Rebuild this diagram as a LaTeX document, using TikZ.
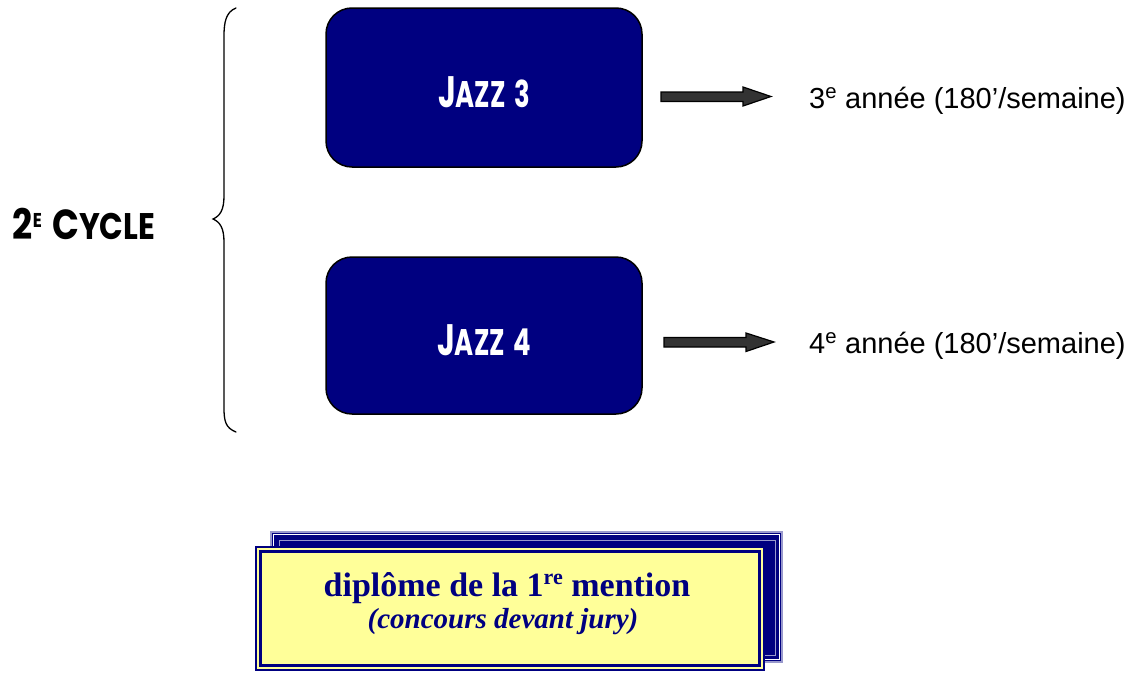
\documentclass[tikz,border=0pt]{standalone}
\usepackage{fontspec}
\usepackage{graphicx}
\setmainfont{Liberation Serif}
\newfontfamily\arialfont{Liberation Sans}
\newfontfamily\handfont{Poppins}
\definecolor{navy}{HTML}{000080}
\definecolor{paleyellow}{HTML}{FFFF99}
\definecolor{lavender}{HTML}{9999CC}
\definecolor{arrowgray}{HTML}{333333}
\tikzset{
  jazzbox/.style={draw=black, line width=1.5pt, fill=navy, rounded corners=26pt},
  jazztext/.style={text=white, font=\handfont\bfseries},
  blockarrow/.style={draw=black, line width=1.2pt, fill=arrowgray, line join=miter},
  yearlabel/.style={anchor=base west, font=\arialfont\fontsize{29}{32}\selectfont, inner sep=0pt},
}
\begin{document}
\begin{tikzpicture}[x=1pt,y=-1pt]
\useasboundingbox (0,0) rectangle (1143,672);
% boxes
\draw[jazzbox] (326,8) rectangle (642,167);
\draw[jazzbox] (326,257) rectangle (642,414);
\node[jazztext] (j3) at (484,92) {\scalebox{0.7}[1]{\fontsize{44}{44}\selectfont J\fontsize{37}{37}\selectfont AZZ\hspace{12pt}3}};
\node[jazztext] (j4) at (484,340) {\scalebox{0.7}[1]{\fontsize{44}{44}\selectfont J\fontsize{37}{37}\selectfont AZZ\hspace{12pt}4}};
% cycle label
\node[font=\handfont\bfseries, text=black] (cyc) at (84,224) {\scalebox{0.84}[1]{\fontsize{42}{42}\selectfont 2\raisebox{12pt}{\fontsize{20}{20}\selectfont E}\hspace{12pt}C\fontsize{37}{37}\selectfont YCLE}};
% brace
\draw[line width=1.3pt, line cap=round] (236,8) .. controls (226,12) and (224,22) .. (224,36)
  -- (224,196) .. controls (224,210) and (220,216) .. (213,219)
  .. controls (220,222) and (224,228) .. (224,242)
  -- (224,408) .. controls (224,422) and (226,428) .. (236,432);
% arrows
\draw[blockarrow] (661,92) -- (743,92) -- (743,87) -- (771,96.5) -- (743,106) -- (743,101.5) -- (661,101.5) -- cycle;
\draw[blockarrow] (664,337.5) -- (746,337.5) -- (746,333) -- (774,342) -- (746,351.5) -- (746,347) -- (664,347) -- cycle;
% year labels
\node[yearlabel] (y3) at (809,108) {3\textsuperscript{e} année (180’/semaine)};
\node[yearlabel] (y4) at (809,353) {4\textsuperscript{e} année (180’/semaine)};
% diploma box back
\fill[navy] (270,531) rectangle (783,663);
\draw[lavender, line width=1.2pt] (271,532) rectangle (782,662);
\draw[white, line width=1.2pt] (273.5,534.5) rectangle (779.5,659.5);
\draw[lavender, line width=0.8pt] (279,540) rectangle (775,655);
% diploma box front
\fill[paleyellow] (255,546) rectangle (765,671);
\draw[navy, line width=2pt] (256,547) rectangle (764,670);
\draw[navy, line width=3pt] (260.5,551.5) rectangle (759.5,665.5);
\node[text=navy, font=\bfseries\fontsize{34}{36}\selectfont, anchor=base, inner sep=0pt] (dip) at (507,596) {diplôme de la 1\raisebox{12pt}{\fontsize{22}{22}\selectfont re} mention};
\node[text=navy, font=\bfseries\itshape\fontsize{29}{32}\selectfont, anchor=base, inner sep=0pt] (jury) at (503,628) {(concours devant jury)};
\end{tikzpicture}
\end{document}
